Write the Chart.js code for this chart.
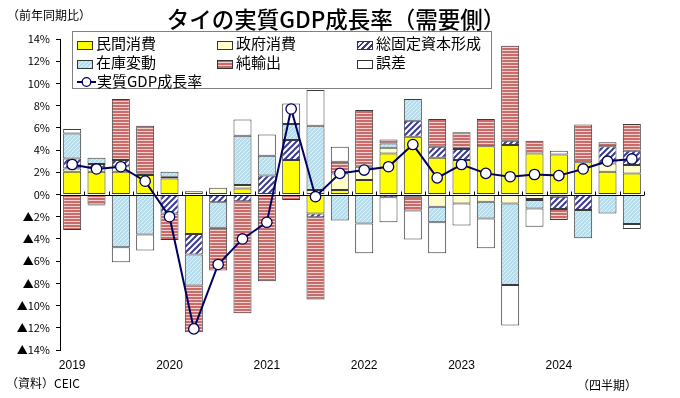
<!DOCTYPE html>
<html lang="ja">
<head>
<meta charset="utf-8">
<script src="https://cdn.jsdelivr.net/npm/chart.js@4/dist/chart.umd.min.js"></script>
<style>
  body { margin: 0; background: #fff; }
  #wrap { position: relative; width: 680px; height: 398px; font-family: 'Noto Sans CJK JP', 'Liberation Sans', sans-serif; color: #000; }
  #c { position: absolute; left: 0; top: 0; }
  .txt { position: absolute; white-space: nowrap; }
  #title { left: 0; width: 672px; top: 4px; text-align: center; font-size: 22.5px; font-weight: 500; line-height: 28px; }
  #legend { position: absolute; left: 72px; top: 31px; width: 418px; height: 56px; border: 1px solid #808080; background: #fff; }
  .item { position: absolute; font-size: 15px; line-height: 18px; white-space: nowrap; }
  .sw { display: inline-block; width: 16px; height: 9px; border: 1px solid #333; margin-right: 3px; vertical-align: -1px; box-sizing: border-box; }
</style>
</head>
<body>
<div id="wrap">
  <canvas id="c" width="680" height="398"></canvas>
  <div class="txt" id="title">タイの実質GDP成長率（需要側）</div>
  <div class="txt" style="left:7px;top:6px;font-size:12px">（前年同期比）</div>
  <div id="legend">
    <div class="item" style="left:4px;top:2px"><span class="sw" style="background:#ffff00"></span>民間消費</div>
    <div class="item" style="left:144px;top:2px"><span class="sw" style="background:#ffffcc"></span>政府消費</div>
    <div class="item" style="left:284px;top:2px"><span class="sw" style="background:repeating-linear-gradient(-45deg,#fff 0 2px,#3b3b8f 2px 4px)"></span>総固定資本形成</div>
    <div class="item" style="left:4px;top:21px"><span class="sw" style="background:repeating-linear-gradient(-45deg,#b9dcea 0 2px,#e4f2f8 2px 3px)"></span>在庫変動</div>
    <div class="item" style="left:144px;top:21px"><span class="sw" style="background:repeating-linear-gradient(0deg,#c96c69 0 2px,#f2d2d1 2px 3px)"></span>純輸出</div>
    <div class="item" style="left:284px;top:21px"><span class="sw" style="background:#fff"></span>誤差</div>
    <div class="item" style="left:4px;top:40px"><svg width="19" height="12" style="margin-right:1px;vertical-align:-1px"><line x1="0" y1="6" x2="19" y2="6" stroke="#000060" stroke-width="2"/><circle cx="9.5" cy="6" r="4.3" fill="#fff" stroke="#000060" stroke-width="1.3"/></svg>実質GDP成長率</div>
  </div>
  <div class="txt" style="left:6px;top:374px;font-size:12px">（資料）CEIC</div>
  <div class="txt" style="left:577px;top:376px;font-size:12px">（四半期）</div>
</div>
<script>
// 2019Q1〜2024Q4, 前年同期比寄与度 (%)
const quarters = ['2019Q1','2019Q2','2019Q3','2019Q4','2020Q1','2020Q2','2020Q3','2020Q4',
  '2021Q1','2021Q2','2021Q3','2021Q4','2022Q1','2022Q2','2022Q3','2022Q4',
  '2023Q1','2023Q2','2023Q3','2023Q4','2024Q1','2024Q2','2024Q3','2024Q4'];
const yearTicks = ['2019','','','','2020','','','','2021','','','','2022','','','',
  '2023','','','','2024','','',''];

const privateCons = [2.05, 2.05, 2.05, 1.75, 1.45, -3.55, 0, 0.55, 0, 3.1, -1.7, 0.4,
  1.3, 3.7, 5.2, 3.3, 3.1, 4.35, 4.45, 3.7, 3.6, 2.9, 2.05, 1.9];
const govCons = [0.3, 0.4, 0.5, 0, 0.15, 0.3, 0.6, 0.3, 0, 0, 0.4, 1.5,
  1.2, 0.5, -0.2, -1.1, -0.8, -0.65, -0.8, -0.4, -0.2, 0, 0.75, 0.75];
const gfcf = [0.9, 0.3, 0.55, 0.15, -1.7, -1.85, -0.7, -0.6, 1.7, 1.8, -0.35, 0,
  0, -0.25, 1.45, 1.0, 1.0, 0, 0.4, -0.1, -1.1, -1.4, 1.55, 1.3];
const inventory = [2.25, 0.55, -4.75, -3.6, 0.45, -2.8, -2.3, 4.45, 1.8, 1.45, 5.8, -2.35,
  -2.6, 0.4, 1.95, -1.4, 0, -1.5, -7.35, -0.75, 0, -2.55, -1.7, -2.65];
const netExports = [-3.2, -0.9, 5.5, 4.3, -2.4, -4.2, -3.85, -10.1, -7.8, -0.5, -7.4, 1.05,
  5.1, 0.35, -1.25, 2.5, 1.5, 2.45, 8.55, 1.15, -1.0, 3.4, 0.35, 2.4];
const discrepancy = [0.4, -0.1, -1.35, -1.45, 0, 0, 0, 1.45, 1.9, 1.85, 3.2, 1.35,
  -2.7, -2.25, -2.6, -2.8, -2.0, -2.7, -3.65, -1.65, 0.35, 0, 0, -0.45];
const gdpGrowth = [2.7, 2.3, 2.5, 1.2, -2.0, -12.1, -6.3, -4.0, -2.5, 7.7, -0.2, 1.9,
  2.2, 2.5, 4.5, 1.5, 2.7, 1.9, 1.6, 1.8, 1.7, 2.3, 3.0, 3.2];

function makePattern(w, h, draw) {
  const cv = document.createElement('canvas');
  cv.width = w; cv.height = h;
  draw(cv.getContext('2d'));
  return cv.getContext('2d').createPattern(cv, 'repeat');
}

// 総固定資本形成：紺の斜線
const hatchNavy = makePattern(6, 6, (g) => {
  g.fillStyle = '#fff'; g.fillRect(0, 0, 6, 6);
  g.strokeStyle = '#3b3b8f'; g.lineWidth = 2;
  g.beginPath();
  g.moveTo(-1, 1); g.lineTo(1, -1);
  g.moveTo(0, 6); g.lineTo(6, 0);
  g.moveTo(5, 7); g.lineTo(7, 5);
  g.stroke();
});
// 在庫変動：水色の細かい斜線
const hatchBlue = makePattern(4, 4, (g) => {
  g.fillStyle = '#b9dcea'; g.fillRect(0, 0, 4, 4);
  g.strokeStyle = '#e4f2f8'; g.lineWidth = 1;
  g.beginPath();
  g.moveTo(0, 4); g.lineTo(4, 0);
  g.stroke();
});
// 純輸出：横縞
const stripeRed = makePattern(4, 3, (g) => {
  g.fillStyle = '#c96c69'; g.fillRect(0, 0, 4, 3);
  g.fillStyle = '#f2d2d1'; g.fillRect(0, 2, 4, 1);
});

const barBase = { type: 'bar', order: 1, borderColor: '#3a3a3a', borderWidth: 1, borderSkipped: false,
  categoryPercentage: 0.74, barPercentage: 1 };

// 0%線と区切りの目盛（折れ線の下に描く）
const zeroAxis = {
  id: 'zeroAxis',
  beforeDatasetDraw(chart, args) {
    if (args.meta.type !== 'line') return;
    const { ctx, chartArea: a, scales: { x, y } } = chart;
    const y0 = Math.round(y.getPixelForValue(0)) + 0.5;
    const half = x.width / quarters.length / 2;
    ctx.save();
    ctx.strokeStyle = '#000'; ctx.lineWidth = 1;
    ctx.beginPath();
    ctx.moveTo(a.left, y0); ctx.lineTo(a.right, y0);
    for (let i = 0; i < quarters.length; i++) {
      const px = Math.round(x.getPixelForValue(i) + half) + 0.5;
      ctx.moveTo(px, y0); ctx.lineTo(px, y0 - 4);
    }
    ctx.stroke();
    ctx.restore();
  }
};

new Chart(document.getElementById('c'), {
  data: {
    labels: quarters,
    datasets: [
      { ...barBase, label: '民間消費', data: privateCons, backgroundColor: '#ffff00' },
      { ...barBase, label: '政府消費', data: govCons, backgroundColor: '#ffffcc' },
      { ...barBase, label: '総固定資本形成', data: gfcf, backgroundColor: hatchNavy },
      { ...barBase, label: '在庫変動', data: inventory, backgroundColor: hatchBlue },
      { ...barBase, label: '純輸出', data: netExports, backgroundColor: stripeRed },
      { ...barBase, label: '誤差', data: discrepancy, backgroundColor: '#ffffff' },
      { type: 'line', label: '実質GDP成長率', data: gdpGrowth, order: 0, stack: 'gdp',
        borderColor: '#000060', borderWidth: 2, tension: 0,
        pointRadius: 5.2, pointBackgroundColor: '#ffffff', pointBorderColor: '#000060', pointBorderWidth: 1.3 },
    ],
  },
  options: {
    responsive: false, animation: false,
    layout: { padding: { top: 39, right: 36, left: 0, bottom: 0 } },
    plugins: { legend: { display: false }, tooltip: { enabled: false } },
    scales: {
      x: {
        stacked: true,
        grid: { display: false, drawTicks: false },
        border: { display: false },
        ticks: { autoSkip: false, maxRotation: 0, padding: 8, color: '#000',
          font: { family: "'Liberation Sans', sans-serif", size: 12 }, callback: (v, i) => yearTicks[i] },
        afterFit(s) { s.height = 48; },
      },
      y: {
        stacked: true, min: -14, max: 14,
        grid: { drawOnChartArea: false, tickLength: 4, color: '#000' },
        border: { color: '#000' },
        ticks: { stepSize: 2, padding: 6, color: '#000', font: { family: "'Noto Sans CJK JP', sans-serif", size: 11 },
          callback: (v) => (v < 0 ? '▲' + (-v) : v) + '%' },
        afterFit(s) { s.width = 60; },
      },
    },
  },
  plugins: [zeroAxis],
});
</script>
</body>
</html>
